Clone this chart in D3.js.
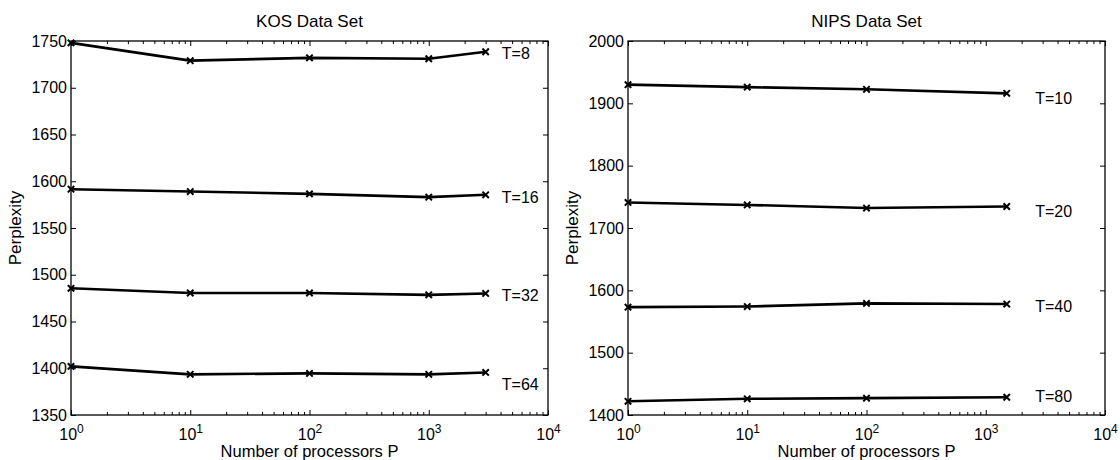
<!DOCTYPE html>
<html>
<head>
<meta charset="utf-8">
<script src="https://cdn.jsdelivr.net/npm/d3@7"></script>
<style>
  html, body { margin: 0; padding: 0; background: #fff; }
  svg { display: block; font-family: "Liberation Sans", Arial, Helvetica, sans-serif; }
</style>
</head>
<body>
<svg id="chart" width="1120" height="460"></svg>
<script>
// Perplexity vs. number of processors, two corpora, one line per topic count T.
const kosProcessors = [1, 10, 100, 1000, 3000];
const kosTopics = [8, 16, 32, 64];
const kosT8  = [1748, 1729, 1732, 1731, 1738.5];
const kosT16 = [1591.5, 1589, 1586.5, 1583, 1585.5];
const kosT32 = [1485.5, 1480.5, 1480.5, 1478.5, 1480];
const kosT64 = [1402, 1393.5, 1394.5, 1393.5, 1395.5];
const kosYTicks = [1350, 1400, 1450, 1500, 1550, 1600, 1650, 1700, 1750];

const nipsProcessors = [1, 10, 100, 1500];
const nipsTopics = [10, 20, 40, 80];
const nipsT10 = [1930, 1926, 1922.5, 1916];
const nipsT20 = [1741, 1737, 1732, 1734.5];
const nipsT40 = [1573, 1574, 1579, 1578];
const nipsT80 = [1422, 1426, 1427, 1428.5];
const nipsYTicks = [1400, 1500, 1600, 1700, 1800, 1900, 2000];

const xTickExponents = [0, 1, 2, 3, 4];

const svg = d3.select("#chart");

const panels = [
  {
    title: "KOS Data Set",
    left: 71, right: 548, top: 41, bottom: 415,
    yDomain: [1350, 1750], yTicks: kosYTicks,
    x: kosProcessors, topics: kosTopics,
    series: [kosT8, kosT16, kosT32, kosT64],
    // text annotations, in data units (x, centre y)
    noteX: 4100, noteY: [1737, 1583, 1478, 1383]
  },
  {
    title: "NIPS Data Set",
    left: 628, right: 1105, top: 41, bottom: 415,
    yDomain: [1400, 2000], yTicks: nipsYTicks,
    x: nipsProcessors, topics: nipsTopics,
    series: [nipsT10, nipsT20, nipsT40, nipsT80],
    noteX: 2600, noteY: [1908, 1727, 1575, 1430]
  }
];

const minorTicks = [];
for (let e = 0; e < 4; e++) for (let m = 2; m <= 9; m++) minorTicks.push(m * Math.pow(10, e));
const majorTicks = xTickExponents.map(e => Math.pow(10, e));

panels.forEach(p => {
  const x = d3.scaleLog().domain([1, 10000]).range([p.left, p.right]);
  const y = d3.scaleLinear().domain(p.yDomain).range([p.bottom, p.top]);
  const g = svg.append("g");

  // box
  g.append("rect")
    .attr("x", p.left).attr("y", p.top)
    .attr("width", p.right - p.left).attr("height", p.bottom - p.top)
    .attr("fill", "none").attr("stroke", "#000").attr("stroke-width", 1.3);

  // minor log ticks, bottom and top
  const minorB = d3.axisBottom(x).tickValues(minorTicks).tickSizeInner(-3).tickSizeOuter(0).tickFormat(() => "");
  const minorT = d3.axisTop(x).tickValues(minorTicks).tickSizeInner(-3).tickSizeOuter(0).tickFormat(() => "");
  g.append("g").attr("transform", `translate(0,${p.bottom})`).call(minorB);
  g.append("g").attr("transform", `translate(0,${p.top})`).call(minorT);

  // major x ticks with power-of-ten labels
  const xAxis = d3.axisBottom(x).tickValues(majorTicks).tickSizeInner(-5).tickSizeOuter(0).tickPadding(13.5).tickFormat(() => "");
  const xg = g.append("g").attr("transform", `translate(0,${p.bottom})`).call(xAxis);
  xg.selectAll(".tick text").each(function(d) {
    const t = d3.select(this);
    t.attr("font-size", 16).attr("fill", "#000").attr("font-family", null);
    t.append("tspan").text("10");
    t.append("tspan").attr("dy", "-0.55em").attr("font-size", 12).text(Math.round(Math.log10(d)));
  });
  g.append("g").attr("transform", `translate(0,${p.top})`)
    .call(d3.axisTop(x).tickValues(majorTicks).tickSizeInner(-5).tickSizeOuter(0).tickFormat(() => ""));

  // y ticks left (labelled) and right
  const yg = g.append("g").attr("transform", `translate(${p.left},0)`)
    .call(d3.axisLeft(y).tickValues(p.yTicks).tickSizeInner(-5).tickSizeOuter(0).tickPadding(4).tickFormat(d3.format("d")));
  yg.selectAll(".tick text").attr("font-size", 16).attr("fill", "#000").attr("font-family", null);
  g.append("g").attr("transform", `translate(${p.right},0)`)
    .call(d3.axisRight(y).tickValues(p.yTicks).tickSizeInner(-5).tickSizeOuter(0).tickFormat(() => ""));

  g.selectAll(".domain").remove();
  g.selectAll(".tick line").attr("stroke", "#000").attr("stroke-width", 1);

  // title and axis labels
  const cx = (p.left + p.right) / 2;
  g.append("text").attr("x", cx).attr("y", 27).attr("text-anchor", "middle")
    .attr("font-size", 17).text(p.title);
  g.append("text").attr("x", cx).attr("y", 457).attr("text-anchor", "middle")
    .attr("font-size", 16.5).text("Number of processors P");
  g.append("text")
    .attr("transform", `translate(${p.left - 50},${(p.top + p.bottom) / 2}) rotate(-90)`)
    .attr("text-anchor", "middle").attr("font-size", 17).text("Perplexity");

  // series lines with x markers
  const line = d3.line().x((d, i) => x(p.x[i])).y(d => y(d));
  p.series.forEach((vals, si) => {
    g.append("path").datum(vals)
      .attr("d", line)
      .attr("fill", "none").attr("stroke", "#000").attr("stroke-width", 2.6)
      .attr("stroke-linejoin", "round");
    g.selectAll(null).data(vals).enter().append("path")
      .attr("transform", (d, i) => `translate(${x(p.x[i])},${y(d)})`)
      .attr("d", "M-3.2,-3.2L3.2,3.2M-3.2,3.2L3.2,-3.2")
      .attr("stroke", "#000").attr("stroke-width", 2).attr("fill", "none");
    g.append("text")
      .attr("x", x(p.noteX)).attr("y", y(p.noteY[si]))
      .attr("dy", "0.35em").attr("font-size", 16)
      .text("T=" + p.topics[si]);
  });
});
</script>
</body>
</html>
